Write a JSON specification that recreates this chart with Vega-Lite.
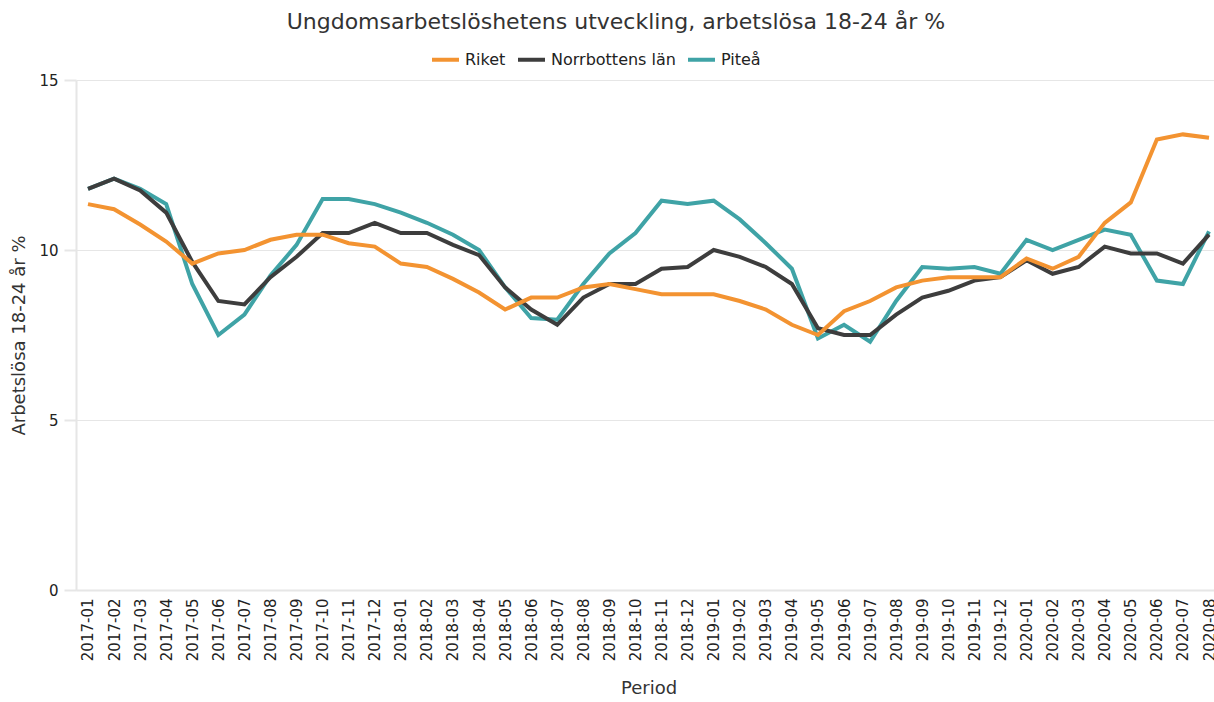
{
  "$schema": "https://vega.github.io/schema/vega-lite/v6.json",
  "autosize": "none",
  "width": 1145,
  "height": 510,
  "padding": {"left": 76, "top": 80, "right": 0, "bottom": 112},
  "background": "white",
  "title": {
    "text": "Ungdomsarbetslöshetens utveckling, arbetslösa 18-24 år %",
    "frame": "bounds",
    "anchor": "middle",
    "font": "DejaVu Sans",
    "fontSize": 22,
    "fontWeight": "normal",
    "color": "#333333",
    "offset": 10
  },
  "data": {
    "values": [
      {"period": "2017-01", "serie": "Piteå", "value": 11.8},
      {"period": "2017-02", "serie": "Piteå", "value": 12.1},
      {"period": "2017-03", "serie": "Piteå", "value": 11.8},
      {"period": "2017-04", "serie": "Piteå", "value": 11.35},
      {"period": "2017-05", "serie": "Piteå", "value": 9.0},
      {"period": "2017-06", "serie": "Piteå", "value": 7.5},
      {"period": "2017-07", "serie": "Piteå", "value": 8.1},
      {"period": "2017-08", "serie": "Piteå", "value": 9.25},
      {"period": "2017-09", "serie": "Piteå", "value": 10.15},
      {"period": "2017-10", "serie": "Piteå", "value": 11.5},
      {"period": "2017-11", "serie": "Piteå", "value": 11.5},
      {"period": "2017-12", "serie": "Piteå", "value": 11.35},
      {"period": "2018-01", "serie": "Piteå", "value": 11.1},
      {"period": "2018-02", "serie": "Piteå", "value": 10.8},
      {"period": "2018-03", "serie": "Piteå", "value": 10.45},
      {"period": "2018-04", "serie": "Piteå", "value": 10.0},
      {"period": "2018-05", "serie": "Piteå", "value": 8.9},
      {"period": "2018-06", "serie": "Piteå", "value": 8.0},
      {"period": "2018-07", "serie": "Piteå", "value": 7.95},
      {"period": "2018-08", "serie": "Piteå", "value": 9.0},
      {"period": "2018-09", "serie": "Piteå", "value": 9.9},
      {"period": "2018-10", "serie": "Piteå", "value": 10.5},
      {"period": "2018-11", "serie": "Piteå", "value": 11.45},
      {"period": "2018-12", "serie": "Piteå", "value": 11.35},
      {"period": "2019-01", "serie": "Piteå", "value": 11.45},
      {"period": "2019-02", "serie": "Piteå", "value": 10.9},
      {"period": "2019-03", "serie": "Piteå", "value": 10.2},
      {"period": "2019-04", "serie": "Piteå", "value": 9.45},
      {"period": "2019-05", "serie": "Piteå", "value": 7.4},
      {"period": "2019-06", "serie": "Piteå", "value": 7.8},
      {"period": "2019-07", "serie": "Piteå", "value": 7.3},
      {"period": "2019-08", "serie": "Piteå", "value": 8.5},
      {"period": "2019-09", "serie": "Piteå", "value": 9.5},
      {"period": "2019-10", "serie": "Piteå", "value": 9.45},
      {"period": "2019-11", "serie": "Piteå", "value": 9.5},
      {"period": "2019-12", "serie": "Piteå", "value": 9.3},
      {"period": "2020-01", "serie": "Piteå", "value": 10.3},
      {"period": "2020-02", "serie": "Piteå", "value": 10.0},
      {"period": "2020-03", "serie": "Piteå", "value": 10.3},
      {"period": "2020-04", "serie": "Piteå", "value": 10.6},
      {"period": "2020-05", "serie": "Piteå", "value": 10.45},
      {"period": "2020-06", "serie": "Piteå", "value": 9.1},
      {"period": "2020-07", "serie": "Piteå", "value": 9.0},
      {"period": "2020-08", "serie": "Piteå", "value": 10.55},
      {"period": "2017-01", "serie": "Norrbottens län", "value": 11.8},
      {"period": "2017-02", "serie": "Norrbottens län", "value": 12.1},
      {"period": "2017-03", "serie": "Norrbottens län", "value": 11.75},
      {"period": "2017-04", "serie": "Norrbottens län", "value": 11.1},
      {"period": "2017-05", "serie": "Norrbottens län", "value": 9.65},
      {"period": "2017-06", "serie": "Norrbottens län", "value": 8.5},
      {"period": "2017-07", "serie": "Norrbottens län", "value": 8.4},
      {"period": "2017-08", "serie": "Norrbottens län", "value": 9.2},
      {"period": "2017-09", "serie": "Norrbottens län", "value": 9.8},
      {"period": "2017-10", "serie": "Norrbottens län", "value": 10.5},
      {"period": "2017-11", "serie": "Norrbottens län", "value": 10.5},
      {"period": "2017-12", "serie": "Norrbottens län", "value": 10.8},
      {"period": "2018-01", "serie": "Norrbottens län", "value": 10.5},
      {"period": "2018-02", "serie": "Norrbottens län", "value": 10.5},
      {"period": "2018-03", "serie": "Norrbottens län", "value": 10.15},
      {"period": "2018-04", "serie": "Norrbottens län", "value": 9.85},
      {"period": "2018-05", "serie": "Norrbottens län", "value": 8.9},
      {"period": "2018-06", "serie": "Norrbottens län", "value": 8.25},
      {"period": "2018-07", "serie": "Norrbottens län", "value": 7.8},
      {"period": "2018-08", "serie": "Norrbottens län", "value": 8.6},
      {"period": "2018-09", "serie": "Norrbottens län", "value": 9.0},
      {"period": "2018-10", "serie": "Norrbottens län", "value": 9.0},
      {"period": "2018-11", "serie": "Norrbottens län", "value": 9.45},
      {"period": "2018-12", "serie": "Norrbottens län", "value": 9.5},
      {"period": "2019-01", "serie": "Norrbottens län", "value": 10.0},
      {"period": "2019-02", "serie": "Norrbottens län", "value": 9.8},
      {"period": "2019-03", "serie": "Norrbottens län", "value": 9.5},
      {"period": "2019-04", "serie": "Norrbottens län", "value": 9.0},
      {"period": "2019-05", "serie": "Norrbottens län", "value": 7.7},
      {"period": "2019-06", "serie": "Norrbottens län", "value": 7.5},
      {"period": "2019-07", "serie": "Norrbottens län", "value": 7.5},
      {"period": "2019-08", "serie": "Norrbottens län", "value": 8.1},
      {"period": "2019-09", "serie": "Norrbottens län", "value": 8.6},
      {"period": "2019-10", "serie": "Norrbottens län", "value": 8.8},
      {"period": "2019-11", "serie": "Norrbottens län", "value": 9.1},
      {"period": "2019-12", "serie": "Norrbottens län", "value": 9.2},
      {"period": "2020-01", "serie": "Norrbottens län", "value": 9.7},
      {"period": "2020-02", "serie": "Norrbottens län", "value": 9.3},
      {"period": "2020-03", "serie": "Norrbottens län", "value": 9.5},
      {"period": "2020-04", "serie": "Norrbottens län", "value": 10.1},
      {"period": "2020-05", "serie": "Norrbottens län", "value": 9.9},
      {"period": "2020-06", "serie": "Norrbottens län", "value": 9.9},
      {"period": "2020-07", "serie": "Norrbottens län", "value": 9.6},
      {"period": "2020-08", "serie": "Norrbottens län", "value": 10.45},
      {"period": "2017-01", "serie": "Riket", "value": 11.35},
      {"period": "2017-02", "serie": "Riket", "value": 11.2},
      {"period": "2017-03", "serie": "Riket", "value": 10.75},
      {"period": "2017-04", "serie": "Riket", "value": 10.25},
      {"period": "2017-05", "serie": "Riket", "value": 9.6},
      {"period": "2017-06", "serie": "Riket", "value": 9.9},
      {"period": "2017-07", "serie": "Riket", "value": 10.0},
      {"period": "2017-08", "serie": "Riket", "value": 10.3},
      {"period": "2017-09", "serie": "Riket", "value": 10.45},
      {"period": "2017-10", "serie": "Riket", "value": 10.45},
      {"period": "2017-11", "serie": "Riket", "value": 10.2},
      {"period": "2017-12", "serie": "Riket", "value": 10.1},
      {"period": "2018-01", "serie": "Riket", "value": 9.6},
      {"period": "2018-02", "serie": "Riket", "value": 9.5},
      {"period": "2018-03", "serie": "Riket", "value": 9.15},
      {"period": "2018-04", "serie": "Riket", "value": 8.75},
      {"period": "2018-05", "serie": "Riket", "value": 8.25},
      {"period": "2018-06", "serie": "Riket", "value": 8.6},
      {"period": "2018-07", "serie": "Riket", "value": 8.6},
      {"period": "2018-08", "serie": "Riket", "value": 8.9},
      {"period": "2018-09", "serie": "Riket", "value": 9.0},
      {"period": "2018-10", "serie": "Riket", "value": 8.85},
      {"period": "2018-11", "serie": "Riket", "value": 8.7},
      {"period": "2018-12", "serie": "Riket", "value": 8.7},
      {"period": "2019-01", "serie": "Riket", "value": 8.7},
      {"period": "2019-02", "serie": "Riket", "value": 8.5},
      {"period": "2019-03", "serie": "Riket", "value": 8.25},
      {"period": "2019-04", "serie": "Riket", "value": 7.8},
      {"period": "2019-05", "serie": "Riket", "value": 7.5},
      {"period": "2019-06", "serie": "Riket", "value": 8.2},
      {"period": "2019-07", "serie": "Riket", "value": 8.5},
      {"period": "2019-08", "serie": "Riket", "value": 8.9},
      {"period": "2019-09", "serie": "Riket", "value": 9.1},
      {"period": "2019-10", "serie": "Riket", "value": 9.2},
      {"period": "2019-11", "serie": "Riket", "value": 9.2},
      {"period": "2019-12", "serie": "Riket", "value": 9.2},
      {"period": "2020-01", "serie": "Riket", "value": 9.75},
      {"period": "2020-02", "serie": "Riket", "value": 9.45},
      {"period": "2020-03", "serie": "Riket", "value": 9.8},
      {"period": "2020-04", "serie": "Riket", "value": 10.8},
      {"period": "2020-05", "serie": "Riket", "value": 11.4},
      {"period": "2020-06", "serie": "Riket", "value": 13.25},
      {"period": "2020-07", "serie": "Riket", "value": 13.4},
      {"period": "2020-08", "serie": "Riket", "value": 13.3}
    ]
  },
  "mark": {"type": "line", "strokeWidth": 4, "strokeJoin": "miter", "clip": false},
  "encoding": {
    "x": {
      "field": "period",
      "type": "ordinal",
      "sort": null,
      "scale": {"type": "point", "padding": 0.46},
      "axis": {
        "title": "Period",
        "labelAngle": -90,
        "labelFont": "DejaVu Sans",
        "labelFontSize": 15,
        "labelColor": "#222222",
        "labelPadding": 8,
        "ticks": false,
        "domainColor": "#e6e6e6",
        "domainWidth": 2,
        "titleFont": "DejaVu Sans",
        "titleFontSize": 18,
        "titleFontWeight": "normal",
        "titleColor": "#333333",
        "titlePadding": 19
      }
    },
    "y": {
      "field": "value",
      "type": "quantitative",
      "scale": {"domain": [0, 15], "nice": false},
      "axis": {
        "title": "Arbetslösa 18-24 år %",
        "values": [0, 5, 10, 15],
        "labelFont": "DejaVu Sans",
        "labelFontSize": 15,
        "labelColor": "#222222",
        "labelPadding": 6,
        "tickSize": 12,
        "tickColor": "#e6e6e6",
        "tickWidth": 2,
        "domainColor": "#e6e6e6",
        "domainWidth": 2,
        "gridColor": "#e6e6e6",
        "gridWidth": 1,
        "titleFont": "DejaVu Sans",
        "titleFontSize": 18,
        "titleFontWeight": "normal",
        "titleColor": "#333333",
        "titlePadding": 10
      }
    },
    "color": {
      "field": "serie",
      "type": "nominal",
      "scale": {
        "domain": ["Riket", "Norrbottens län", "Piteå"],
        "range": ["#F39331", "#3D3D3D", "#3FA3A6"]
      },
      "legend": {
        "title": null,
        "orient": "none",
        "direction": "horizontal",
        "legendX": 354,
        "legendY": -36,
        "symbolType": "stroke",
        "symbolSize": 729,
        "symbolStrokeWidth": 4,
        "labelFont": "DejaVu Sans",
        "labelFontSize": 16,
        "labelColor": "#222222",
        "labelOffset": 4,
        "columnPadding": 4
      }
    }
  },
  "config": {
    "view": {"stroke": null}
  }
}
